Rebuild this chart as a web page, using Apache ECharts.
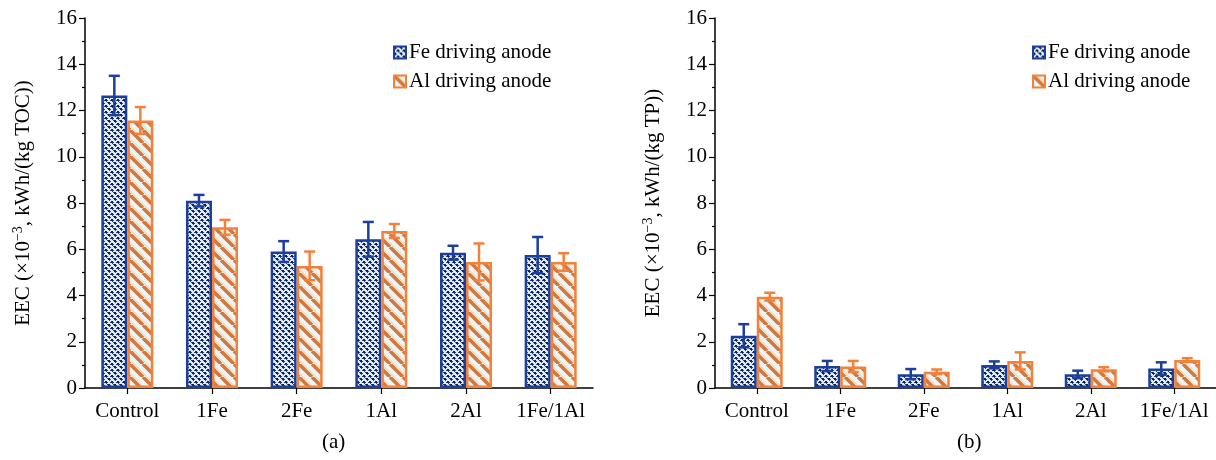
<!DOCTYPE html>
<html><head><meta charset="utf-8">
<script src="https://cdn.jsdelivr.net/npm/echarts@6/dist/echarts.min.js"></script>
<style>html,body{margin:0;padding:0;background:#fff}#c{width:1216px;height:460px}</style>
</head><body><div id="c"></div>
<script>
const categories = ['Control','1Fe','2Fe','1Al','2Al','1Fe/1Al'];
const yTicks = [0,2,4,6,8,10,12,14,16];
// Panel (a): EEC per kg TOC
const feTOC = [12.65, 8.1, 5.9, 6.43, 5.85, 5.75];
const feTOCErr = [0.85, 0.25, 0.45, 0.75, 0.3, 0.78];
const alTOC = [11.57, 6.95, 5.28, 6.79, 5.45, 5.45];
const alTOCErr = [0.58, 0.32, 0.62, 0.3, 0.8, 0.38];
// Panel (b): EEC per kg TP
const feTP = [2.26, 0.95, 0.6, 1.0, 0.59, 0.84];
const feTPErr = [0.5, 0.22, 0.22, 0.15, 0.16, 0.27];
const alTP = [3.95, 0.93, 0.7, 1.17, 0.81, 1.21];
const alTPErr = [0.17, 0.24, 0.1, 0.37, 0.09, 0.08];

const BLUE = '#1b3f9b', ORANGE = '#f4813a';
function fePattern(){
  const c = document.createElement('canvas'); c.width = 6; c.height = 6;
  const g = c.getContext('2d');
  g.fillStyle = '#dfe9f8'; g.fillRect(0,0,6,6);
  g.fillStyle = '#0d2458';
  g.fillRect(0,0,2,2); g.fillRect(3,3,2,2);
  g.fillStyle = '#2c4a8c';
  g.fillRect(2,1,1,1); g.fillRect(1,2,1,1); g.fillRect(5,4,1,1); g.fillRect(4,5,1,1);
  g.fillRect(5,0,1,1); g.fillRect(2,4,1,1);
  return c;
}
function alPattern(){
  const s = 13;
  const c = document.createElement('canvas'); c.width = s; c.height = s;
  const g = c.getContext('2d');
  g.fillStyle = '#e8f6fb'; g.fillRect(0,0,s,s);
  g.strokeStyle = '#d4773c'; g.lineWidth = 3.5;
  for (let k=-1;k<=1;k++){
    g.beginPath(); g.moveTo(k*s, 0); g.lineTo(k*s + s, s); g.stroke();
  }
  g.strokeStyle = 'rgba(248,215,170,0.9)'; g.lineWidth = 1.5;
  for (let k=-1;k<=1;k++){
    g.beginPath(); g.moveTo(k*s+4, 0); g.lineTo(k*s + s+4, s); g.stroke();
  }
  return c;
}
const feFill = {image: fePattern(), repeat: 'repeat'};
const alFill = {image: alPattern(), repeat: 'repeat'};

const FONT = 'Liberation Serif';
const BAR_W = 26;

function yAxisDef(gi, unit){
  return {
    gridIndex: gi, type: 'value', min: 0, max: 16, interval: 2,
    axisLine: {show: true, lineStyle: {color: '#000', width: 1.5}},
    axisTick: {show: true, inside: false, length: 6, lineStyle: {color: '#000', width: 1.2}},
    minorTick: {show: true, splitNumber: 2, length: 3, lineStyle: {color: '#000', width: 1.2}},
    splitLine: {show: false},
    axisLabel: {color: '#000', fontFamily: FONT, fontSize: 21, margin: 8,
      formatter: v => yTicks.includes(v) ? String(v) : ''},
    name: '{a|EEC (×10}{s|−3}{a|, kWh/(kg ' + unit + '))}',
    nameLocation: 'middle', nameRotate: 90, nameGap: 50,
    nameTextStyle: {rich: {
      a: {fontFamily: FONT, fontSize: 21, color: '#000'},
      s: {fontFamily: FONT, fontSize: 14, color: '#000', verticalAlign: 'top', padding: [0,0,10,0]}
    }}
  };
}
function xAxisDef(gi){
  return {
    gridIndex: gi, type: 'category', data: categories,
    axisLine: {show: true, lineStyle: {color: '#000', width: 1.5}},
    axisTick: {show: true, alignWithLabel: true, length: 6, lineStyle: {color: '#000', width: 1.2}},
    axisLabel: {color: '#000', fontFamily: FONT, fontSize: 21, margin: 13, interval: 0},
    splitLine: {show: false}
  };
}
function barSeries(name, gi, data, fill, border){
  return {
    name, type: 'bar', xAxisIndex: gi, yAxisIndex: gi, data,
    barWidth: BAR_W, barGap: '0%',
    itemStyle: {color: fill, borderColor: border, borderWidth: 2.5},
    emphasis: {disabled: true}
  };
}
function errSeries(gi, vals, errs, color, dx){
  return {
    type: 'custom', xAxisIndex: gi, yAxisIndex: gi, z: 10,
    data: vals.map((v,i) => [i, v, errs[i]]),
    encode: {x: 0, y: 1},
    renderItem: function(params, api){
      const i = api.value(0), v = api.value(1), e = api.value(2);
      const t = api.coord([i, v + e]), b = api.coord([i, v - e]);
      const x = t[0] + dx, cap = 5.5;
      const st = {stroke: color, lineWidth: 2.5};
      return {type: 'group', children: [
        {type: 'line', shape: {x1: x, y1: t[1], x2: x, y2: b[1]}, style: st},
        {type: 'line', shape: {x1: x-cap, y1: t[1], x2: x+cap, y2: t[1]}, style: st},
        {type: 'line', shape: {x1: x-cap, y1: b[1], x2: x+cap, y2: b[1]}, style: st}
      ]};
    },
    silent: true
  };
}

const chart = echarts.init(document.getElementById('c'), null, {renderer: 'canvas'});
const legendBase = {
  orient: 'vertical', itemWidth: 12, itemHeight: 12, itemGap: 8,
  icon: 'rect',
  textStyle: {fontFamily: FONT, fontSize: 21, color: '#000', padding: [0,0,0,-2]},
  data: ['Fe driving anode', 'Al driving anode']
};
chart.setOption({
  animation: false,
  grid: [
    {left: 85, top: 18, width: 508, height: 370},
    {left: 715, top: 18, width: 508, height: 370}
  ],
  xAxis: [xAxisDef(0), xAxisDef(1)],
  yAxis: [yAxisDef(0, 'TOC'), yAxisDef(1, 'TP')],
  legend: [
    Object.assign({left: 388, top: 37}, legendBase),
    Object.assign({left: 1027, top: 37}, legendBase)
  ],
  series: [
    barSeries('Fe driving anode', 0, feTOC, feFill, BLUE),
    barSeries('Al driving anode', 0, alTOC, alFill, ORANGE),
    errSeries(0, feTOC, feTOCErr, BLUE, -BAR_W/2),
    errSeries(0, alTOC, alTOCErr, ORANGE, BAR_W/2),
    barSeries('Fe driving anode', 1, feTP, feFill, BLUE),
    barSeries('Al driving anode', 1, alTP, alFill, ORANGE),
    errSeries(1, feTP, feTPErr, BLUE, -BAR_W/2),
    errSeries(1, alTP, alTPErr, ORANGE, BAR_W/2)
  ],
  graphic: [
    {type: 'text', left: 322, top: 432, style: {text: '(a)', font: '21px "Liberation Serif"', fill: '#000'}},
    {type: 'text', left: 957, top: 432, style: {text: '(b)', font: '21px "Liberation Serif"', fill: '#000'}}
  ]
});
</script></body></html>
